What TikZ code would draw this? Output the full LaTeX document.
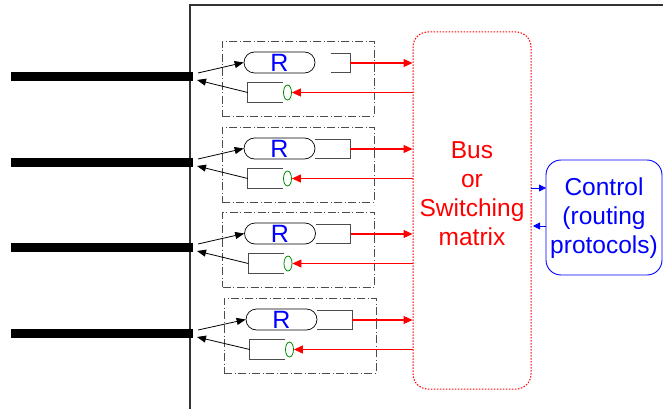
\documentclass[tikz,border=0pt]{standalone}
\usepackage{fontspec}
\setmainfont{Liberation Sans}
\usetikzlibrary{arrows.meta,shapes.misc,shapes.geometric}
\begin{document}
\begin{tikzpicture}[x=1pt,y=-1pt,
  bigtext/.style={font=\fontsize{24.5}{29}\selectfont, align=center, inner sep=0pt},
  modbox/.style={draw=black!70, line width=0.8pt, dash pattern=on 8pt off 2.5pt on 1pt off 2.5pt, minimum width=152pt, minimum height=75pt, inner sep=0pt},
  rnode/.style={rounded rectangle, draw=black, line width=0.7pt, minimum width=71pt, minimum height=21pt, inner sep=0pt, text=blue, font=\fontsize{25}{25}\selectfont},
  bufarea/.style={inner sep=0pt, minimum height=18.5pt},
  buf/.style={draw=black!70, line width=0.9pt},
  qend/.style={ellipse, draw=green!55!black, line width=0.8pt, minimum width=8pt, minimum height=15pt, inner sep=0pt},
  redarr/.style={red, line width=1.1pt, -{Triangle[length=9pt,width=8pt]}},
  blkarr/.style={black, line width=0.8pt, -{Triangle[length=9pt,width=7pt]}},
  bluearr/.style={blue, line width=0.8pt, -{Triangle[length=7pt,width=7pt]}},
  port/.style={black, line width=9pt},
  busbox/.style={draw=red, line width=1pt, dash pattern=on 1.5pt off 1.5pt, rounded corners=15pt, minimum width=118pt, minimum height=357pt, inner sep=0pt},
  ctrlbox/.style={draw=blue, line width=0.9pt, rounded corners=15pt, minimum width=116pt, minimum height=115pt, text=blue}
]
\useasboundingbox (0,0) rectangle (663,409);
% outer frame
\draw[black!80, line width=1.3pt] (190,409) -- (190,5) -- (663,5);
% bus
\node[busbox] (bus) at (472,210.5) {};
\node[bigtext, text=red] (bustxt) at (472,194) {Bus\\or\\Switching\\matrix};
% control
\node[ctrlbox] (ctrl) at (604,217.5) {};
\node[bigtext, text=blue] (ctrltxt) at (604,218) {Control\\(routing\\protocols)};
\coordinate (b1) at (531,188);
\coordinate (c1) at (546,188);
\coordinate (b2) at (533,226);
\coordinate (c2) at (546,226);
\draw[bluearr] (b1) -- (c1);
\draw[bluearr] (c2) -- (b2);
% modules
\foreach \i/\ty/\sx/\lx in {1/41/0/331, 2/127/0/315, 3/212/0.5/316, 4/298/2/317}{
  \pgfmathsetmacro\ibw{350+\sx-\lx}
  \pgfmathsetmacro\ibx{(350+\sx+\lx)/2}
  \node[modbox] (m\i) at (298+\sx,\ty+37.5) {};
  \node[rnode] (R\i) at (279.5+\sx,\ty+21.5) {R};
  \node[bufarea, minimum width=\ibw pt] (ib\i) at (\ibx,\ty+22) {};
  \draw[buf] (ib\i.north west) -- (ib\i.north east) -- (ib\i.south east) -- (ib\i.south west);
  \node[bufarea, minimum width=35pt, minimum height=19pt] (ob\i) at (265.5+\sx,\ty+51.5) {};
  \draw[buf] (ob\i.north east) -- (ob\i.north west) -- (ob\i.south west) -- (ob\i.south east);
  \node[qend] (q\i) at (287.5+\sx,\ty+51.5) {};
  \draw[redarr] (ib\i.east) -- (ib\i.east -| bus.west);
  \draw[redarr] (q\i.east -| bus.west) -- (q\i.east);
  \coordinate (pa\i) at (11,\ty+35.5);
  \coordinate (pb\i) at (193,\ty+35.5);
  \draw[port] (pa\i) -- (pb\i);
  \coordinate (pin\i) at (198,\ty+32);
  \coordinate (pout\i) at (197,\ty+39);
  \draw[blkarr] (pin\i) -- (R\i.west);
  \draw[blkarr] (ob\i.west) -- (pout\i);
}
\end{tikzpicture}
\end{document}
